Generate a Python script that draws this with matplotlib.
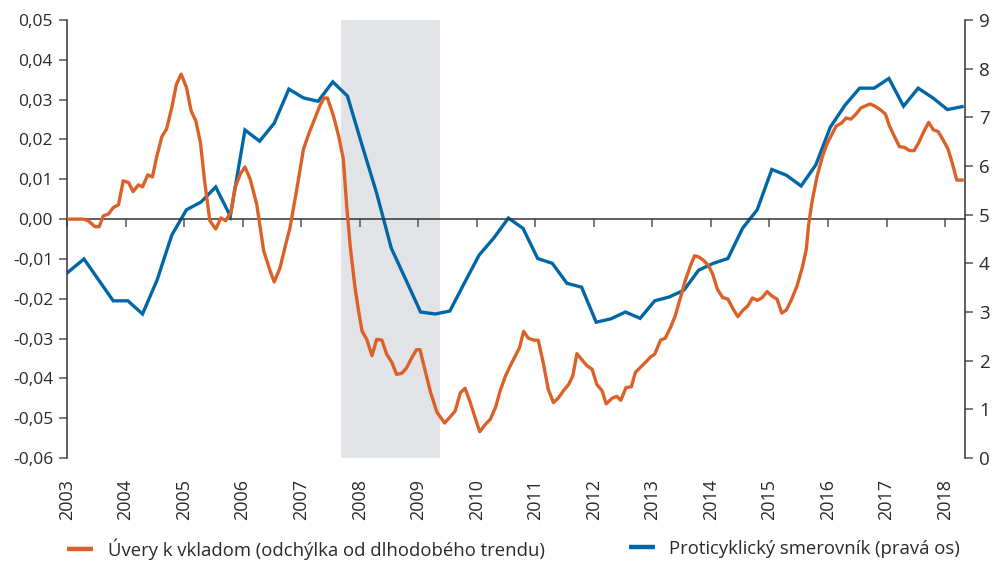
import numpy as np
import matplotlib.pyplot as plt

plt.rcParams['font.family'] = ['Open Sans', 'DejaVu Sans']

# Úvery k vkladom – odchýlka od dlhodobého trendu (ľavá os)
loan_x = [2003.00, 2003.28, 2003.36, 2003.48, 2003.55, 2003.62, 2003.71, 2003.79, 2003.88, 2003.96,
          2004.05, 2004.13, 2004.22, 2004.29, 2004.38, 2004.46, 2004.53, 2004.62, 2004.70, 2004.79,
          2004.87, 2004.95, 2005.04, 2005.12, 2005.20, 2005.28, 2005.35, 2005.44, 2005.54, 2005.63,
          2005.71, 2005.80, 2005.87, 2005.96, 2006.04, 2006.13, 2006.24, 2006.36, 2006.47, 2006.54,
          2006.64, 2006.73, 2006.81, 2006.93, 2007.04, 2007.13, 2007.24, 2007.32, 2007.39, 2007.45,
          2007.55, 2007.64, 2007.72, 2007.78, 2007.84, 2007.92, 2007.98, 2008.04, 2008.12, 2008.21,
          2008.29, 2008.38, 2008.46, 2008.55, 2008.63, 2008.72, 2008.80, 2008.89, 2008.97, 2009.03,
          2009.12, 2009.21, 2009.32, 2009.45, 2009.55, 2009.63, 2009.72, 2009.80, 2009.89, 2009.97,
          2010.05, 2010.15, 2010.23, 2010.32, 2010.40, 2010.49, 2010.57, 2010.66, 2010.73, 2010.80,
          2010.88, 2010.97, 2011.05, 2011.14, 2011.22, 2011.31, 2011.40, 2011.48, 2011.57, 2011.64,
          2011.71, 2011.79, 2011.88, 2011.97, 2012.05, 2012.14, 2012.21, 2012.31, 2012.39, 2012.46,
          2012.55, 2012.64, 2012.71, 2012.79, 2012.88, 2012.97, 2013.04, 2013.14, 2013.22, 2013.31,
          2013.39, 2013.48, 2013.56, 2013.65, 2013.72, 2013.79, 2013.87, 2013.96, 2014.03, 2014.11,
          2014.20, 2014.29, 2014.38, 2014.46, 2014.54, 2014.63, 2014.71, 2014.79, 2014.87, 2014.96,
          2015.04, 2015.13, 2015.21, 2015.29, 2015.38, 2015.47, 2015.56, 2015.63, 2015.67, 2015.73,
          2015.81, 2015.90, 2015.98, 2016.07, 2016.14, 2016.23, 2016.31, 2016.39, 2016.48, 2016.56,
          2016.65, 2016.72, 2016.81, 2016.90, 2016.98, 2017.05, 2017.13, 2017.22, 2017.31, 2017.39,
          2017.47, 2017.55, 2017.63, 2017.72, 2017.80, 2017.88, 2017.97, 2018.05, 2018.12, 2018.20,
          2018.29]
loan_gap = [0.0000, 0.0000, -0.0004, -0.0019, -0.0019, 0.0008, 0.0013, 0.0029, 0.0036, 0.0096,
            0.0092, 0.0069, 0.0086, 0.0081, 0.0111, 0.0106, 0.0155, 0.0207, 0.0226, 0.0280,
            0.0339, 0.0364, 0.0331, 0.0272, 0.0247, 0.0192, 0.0096, -0.0004, -0.0025, 0.0003,
            -0.0004, 0.0017, 0.0079, 0.0113, 0.0131, 0.0100, 0.0038, -0.0080, -0.0130, -0.0158,
            -0.0122, -0.0067, -0.0021, 0.0079, 0.0176, 0.0214, 0.0255, 0.0285, 0.0304, 0.0304,
            0.0260, 0.0209, 0.0151, 0.0029, -0.0071, -0.0172, -0.0230, -0.0281, -0.0302, -0.0343,
            -0.0302, -0.0304, -0.0339, -0.0360, -0.0390, -0.0387, -0.0374, -0.0348, -0.0328, -0.0328,
            -0.0381, -0.0435, -0.0485, -0.0512, -0.0496, -0.0482, -0.0436, -0.0425, -0.0461, -0.0498,
            -0.0534, -0.0515, -0.0503, -0.0473, -0.0431, -0.0394, -0.0369, -0.0343, -0.0323, -0.0282,
            -0.0299, -0.0304, -0.0304, -0.0364, -0.0427, -0.0461, -0.0448, -0.0431, -0.0415, -0.0394,
            -0.0338, -0.0352, -0.0368, -0.0377, -0.0415, -0.0431, -0.0464, -0.0450, -0.0445, -0.0455,
            -0.0423, -0.0421, -0.0385, -0.0373, -0.0360, -0.0346, -0.0339, -0.0304, -0.0299, -0.0272,
            -0.0243, -0.0197, -0.0155, -0.0117, -0.0092, -0.0095, -0.0103, -0.0117, -0.0138, -0.0176,
            -0.0197, -0.0201, -0.0226, -0.0245, -0.0230, -0.0218, -0.0198, -0.0204, -0.0198, -0.0182,
            -0.0193, -0.0201, -0.0236, -0.0228, -0.0201, -0.0168, -0.0122, -0.0075, -0.0013, 0.0046,
            0.0105, 0.0155, 0.0188, 0.0214, 0.0234, 0.0241, 0.0254, 0.0251, 0.0264, 0.0279,
            0.0285, 0.0289, 0.0283, 0.0274, 0.0264, 0.0234, 0.0209, 0.0182, 0.0180, 0.0172,
            0.0172, 0.0192, 0.0218, 0.0243, 0.0224, 0.0220, 0.0198, 0.0176, 0.0142, 0.0098,
            0.0098]

# Proticyklický smerovník – štvrťročné hodnoty (pravá os)
ccb_x = [2003.0] + [2003.04 + 0.25 * k for k in range(1, 62)]
ccb = [3.80, 4.09, 3.66, 3.23, 3.23, 2.96, 3.66, 4.58, 5.10, 5.26,
       5.57, 4.97, 6.74, 6.51, 6.88, 7.58, 7.40, 7.33, 7.73, 7.44,
       6.43, 5.44, 4.31, 3.66, 3.00, 2.96, 3.02, 3.60, 4.17, 4.52,
       4.93, 4.72, 4.10, 4.00, 3.59, 3.51, 2.79, 2.86, 3.00, 2.87,
       3.23, 3.31, 3.45, 3.86, 4.00, 4.10, 4.72, 5.10, 5.93, 5.81,
       5.59, 6.02, 6.80, 7.25, 7.60, 7.60, 7.80, 7.23, 7.60, 7.40,
       7.16, 7.22]

years = list(range(2003, 2019))
left_ticks = [0.05, 0.04, 0.03, 0.02, 0.01, 0.0, -0.01, -0.02, -0.03, -0.04, -0.05, -0.06]
left_labels = ['0,05', '0,04', '0,03', '0,02', '0,01', '0,00',
               '-0,01', '-0,02', '-0,03', '-0,04', '-0,05', '-0,06']
right_ticks = list(range(0, 10))
crisis = (2007.68, 2009.38)

orange = '#DB6128'
blue = '#0067A6'
txt = '#2a2a2a'

fig = plt.figure(figsize=(9.97, 5.67), dpi=100)
ax = fig.add_axes([0.0672, 0.1922, 0.9007, 0.7725])
ax2 = ax.twinx()
ax.set_zorder(ax2.get_zorder() + 1)
ax.patch.set_visible(False)

ax2.axvspan(*crisis, color='#E2E3E6', lw=0, zorder=0)
ax2.plot(ccb_x, ccb, color=blue, lw=2.4, solid_joinstyle='miter', zorder=2)
ax.plot(loan_x, loan_gap, color=orange, lw=2.4, zorder=3)

ax.set_xlim(2003, 2018.34)
ax.set_ylim(-0.06, 0.05)
ax2.set_ylim(0, 9)

for a in (ax, ax2):
    a.spines['top'].set_visible(False)
    for s in a.spines.values():
        s.set_color('#333333')
        s.set_linewidth(1.1)
ax.spines['right'].set_visible(False)
ax2.spines['left'].set_visible(False)
ax2.spines['bottom'].set_visible(False)

# os x leží na nule, popisky rokov dole
ax.spines['bottom'].set_position(('data', 0))
ax.set_xticks(years)
ax.tick_params(axis='x', direction='out', length=6, width=1.1, color='#555555',
               labelbottom=False)
sec = ax.secondary_xaxis('bottom')
sec.set_xticks(years, [str(y) for y in years], rotation=90)
sec.tick_params(length=0, pad=15, labelsize=13, labelcolor=txt)
sec.spines['bottom'].set_visible(False)

ax.set_yticks(left_ticks, left_labels)
ax.tick_params(axis='y', direction='out', length=6, width=1.1, color='#555555',
               labelsize=12.5, labelcolor=txt, pad=4)
ax2.set_yticks(right_ticks, [str(v) for v in right_ticks])
ax2.tick_params(axis='y', direction='out', length=6, width=1.1, color='#555555',
                labelsize=13.5, labelcolor=txt, pad=4)

h1, = ax.plot([], [], color=orange, lw=3.2, solid_capstyle='butt')
h2, = ax.plot([], [], color=blue, lw=3.2, solid_capstyle='butt')
leg_kw = dict(frameon=False, fontsize=13.3, handlelength=1.4, handletextpad=0.8,
              loc='center left', labelcolor=txt)
fig.legend([h1], ['Úvery k vkladom (odchýlka od dlhodobého trendu)'],
           bbox_to_anchor=(0.051, 0.032), **leg_kw)
fig.legend([h2], ['Proticyklický smerovník (pravá os)'],
           bbox_to_anchor=(0.614, 0.032), **leg_kw)

fig.savefig('out.png', dpi=100)
